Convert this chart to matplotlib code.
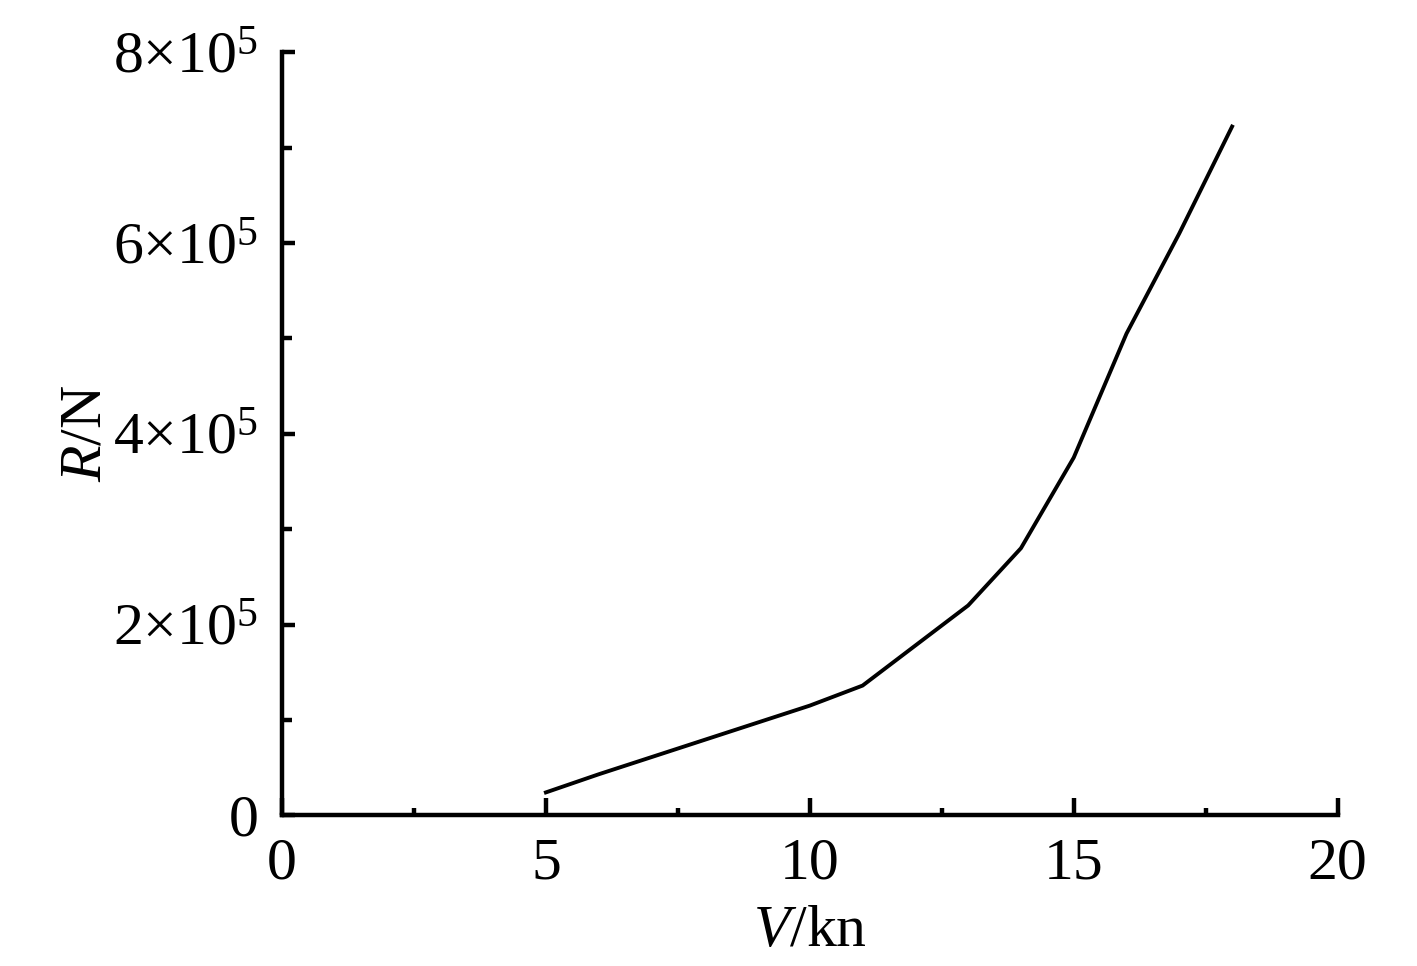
import numpy as np
import matplotlib.pyplot as plt
from matplotlib.ticker import MultipleLocator, FuncFormatter

plt.rcParams['font.family'] = 'Liberation Serif'
plt.rcParams['mathtext.fontset'] = 'custom'
plt.rcParams['mathtext.rm'] = 'Liberation Serif'
plt.rcParams['mathtext.it'] = 'Liberation Serif:italic'

# speed (kn) and resistance (N)
V = [5, 6, 7, 8, 9, 10, 11, 12, 13, 14, 15, 16, 17, 18]
R = [2.4e4, 4.3e4, 6.1e4, 7.9e4, 9.7e4, 1.15e5, 1.36e5, 1.78e5,
     2.2e5, 2.8e5, 3.75e5, 5.05e5, 6.1e5, 7.22e5]

x_ticks = [0, 5, 10, 15, 20]
y_ticks = [0, 2e5, 4e5, 6e5, 8e5]


def fmt_y(v, pos):
    if v == 0:
        return '0'
    m = int(round(v / 1e5))
    return '%d×10$^{5}$' % m


fig = plt.figure(figsize=(14.17, 9.66), dpi=100)
ax = fig.add_axes([0.199, 0.156, 0.745, 0.79])

ax.plot(V, R, color='black', lw=2.8)

ax.set_xlim(0, 20)
ax.set_ylim(0, 8e5)
ax.set_xticks(x_ticks)
ax.set_yticks(y_ticks)
ax.xaxis.set_minor_locator(MultipleLocator(2.5))
ax.yaxis.set_minor_locator(MultipleLocator(1e5))
ax.yaxis.set_major_formatter(FuncFormatter(fmt_y))

for s in ['top', 'right']:
    ax.spines[s].set_visible(False)
for s in ['left', 'bottom']:
    ax.spines[s].set_linewidth(3.2)

ax.tick_params(which='major', direction='in', length=12, width=3.2,
               labelsize=43, pad=16)
ax.tick_params(which='minor', direction='in', length=5, width=3.2)
ax.tick_params(axis='y', which='major', length=9, pad=17)
ax.tick_params(axis='y', which='minor', length=7)

ax.set_xlabel(r'$\mathit{V}$/kn', fontsize=43, labelpad=10)
ax.set_ylabel(r'$\mathit{R}$/N', fontsize=43, labelpad=0)

fig.savefig('out.png', dpi=100)
